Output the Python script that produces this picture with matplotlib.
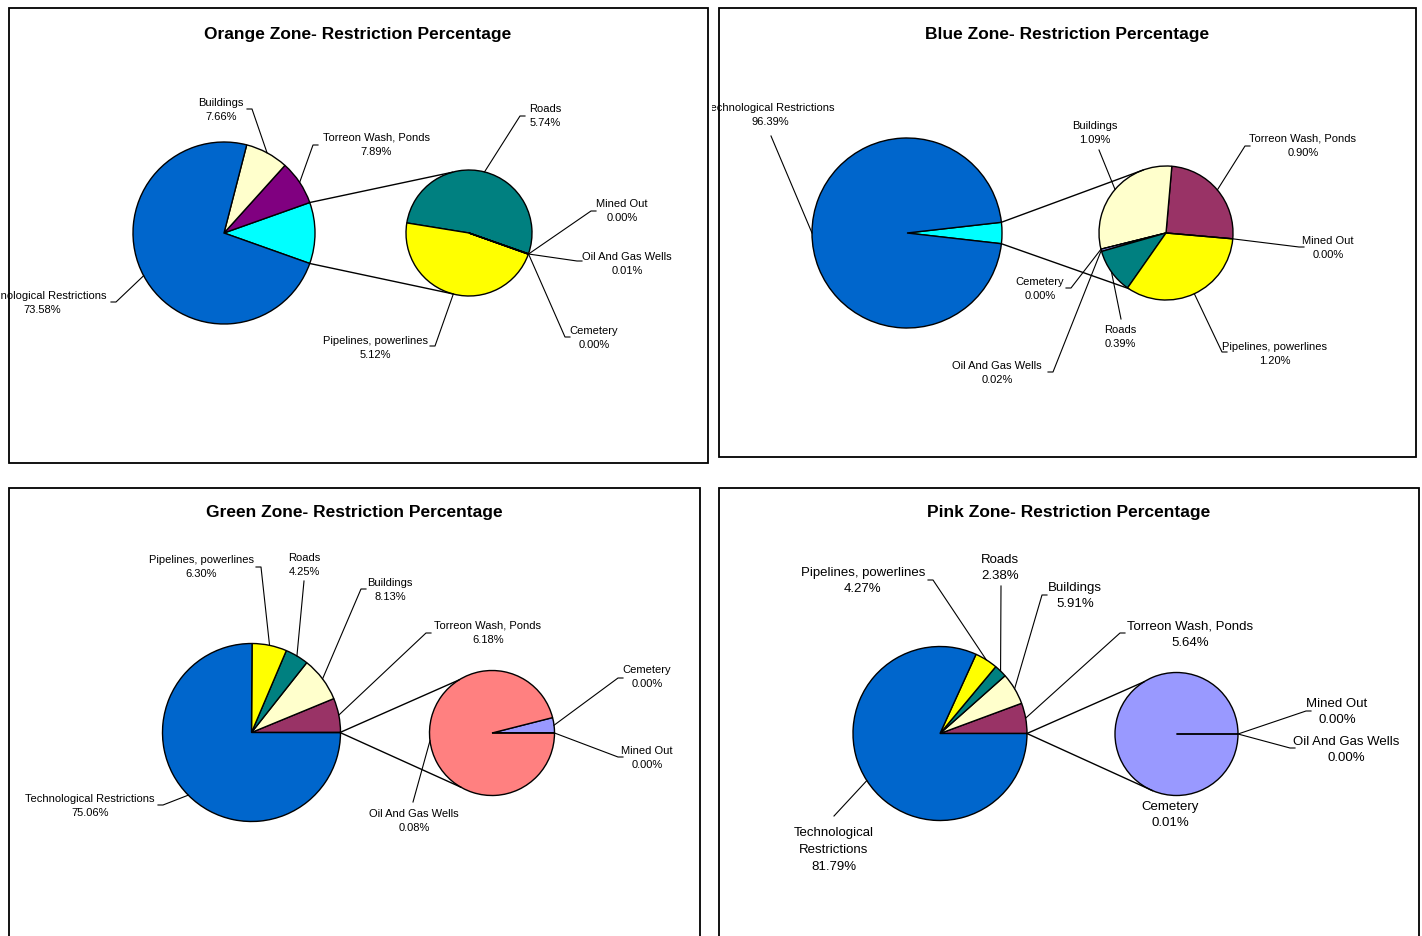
import numpy as np
import matplotlib
matplotlib.use("Agg")
import matplotlib.pyplot as plt
from matplotlib.patches import Rectangle
from matplotlib.transforms import Bbox, TransformedBbox

plt.rcParams["font.family"] = ["Liberation Sans", "DejaVu Sans"]

W, H = 1422, 937

# restriction shares (% of zone area); the small categories go to the side pie
orange_main_labels = ["Torreon Wash, Ponds", "Buildings", "Technological Restrictions"]
orange_main_values = [7.89, 7.66, 73.58]
orange_sub_labels = ["Roads", "Pipelines, powerlines", "Mined Out", "Oil And Gas Wells", "Cemetery"]
orange_sub_values = [5.74, 5.12, 0.00, 0.01, 0.00]

blue_main_labels = ["Technological Restrictions"]
blue_main_values = [96.39]
blue_sub_labels = ["Torreon Wash, Ponds", "Buildings", "Cemetery", "Oil And Gas Wells",
                   "Roads", "Pipelines, powerlines", "Mined Out"]
blue_sub_values = [0.90, 1.09, 0.00, 0.02, 0.39, 1.20, 0.00]

green_main_labels = ["Torreon Wash, Ponds", "Buildings", "Roads", "Pipelines, powerlines",
                     "Technological Restrictions"]
green_main_values = [6.18, 8.13, 4.25, 6.30, 75.06]
green_sub_labels = ["Cemetery", "Oil And Gas Wells", "Mined Out"]
green_sub_values = [0.0033, 0.08, 0.00]

pink_main_labels = ["Torreon Wash, Ponds", "Buildings", "Roads", "Pipelines, powerlines",
                    "Technological Restrictions"]
pink_main_values = [5.64, 5.91, 2.38, 4.27, 81.79]
pink_sub_labels = ["Cemetery", "Mined Out", "Oil And Gas Wells"]
pink_sub_values = [0.01, 0.00, 0.00]

colors = {
    "Technological Restrictions": "#0066CC",
    "Buildings": "#FFFFCC",
    "Torreon Wash, Ponds": "#993366",
    "Roads": "#008080",
    "Pipelines, powerlines": "#FFFF00",
    "Mined Out": "#CCFFFF",
    "Oil And Gas Wells": "#FF8080",
    "Cemetery": "#9999FF",
}
other_color = "#00FFFF"

# layout in pixels from the top-left corner
# label entries: name -> (text x, text y, leader elbow x, leader elbow y)
zones = [
    dict(title="Orange Zone- Restriction Percentage", title_xy=(358, 34),
         frame=(9, 9, 708, 464), clip=(0, 713),
         main_labels=orange_main_labels, main_values=orange_main_values,
         sub_labels=orange_sub_labels, sub_values=orange_sub_values,
         recolor={"Torreon Wash, Ponds": "#800080"},
         main=(224, 234, 91), sub=(469, 234, 63), sub_start=-19.3, links=(105, 255),
         fontsize=8, wrap={},
         labels={
             "Buildings": (221, 110, 252, 110),
             "Torreon Wash, Ponds": (376, 145, 313, 146),
             "Technological Restrictions": (42, 303, 116, 303),
             "Roads": (545, 116, 520, 117),
             "Mined Out": (622, 211, 591, 212),
             "Oil And Gas Wells": (627, 264, 577, 262),
             "Cemetery": (594, 338, 565, 338),
             "Pipelines, powerlines": (375, 348, 435, 347),
         }),
    dict(title="Blue Zone- Restriction Percentage", title_xy=(1067, 34),
         frame=(719, 9, 1416, 458), clip=(712, W),
         main_labels=blue_main_labels, main_values=blue_main_values,
         sub_labels=blue_sub_labels, sub_values=blue_sub_values,
         recolor={"Oil And Gas Wells": "#9999FF"},
         main=(907, 234, 95), sub=(1166, 234, 67), sub_start=-5.0, links=(110, 236),
         fontsize=8, wrap={},
         labels={
             "Technological Restrictions": (770, 115, 771, 137),
             "Buildings": (1095, 133, 1099, 151),
             "Torreon Wash, Ponds": (1303, 146, 1245, 147),
             "Mined Out": (1328, 248, 1299, 248),
             "Cemetery": (1040, 289, 1071, 289),
             "Oil And Gas Wells": (997, 373, 1053, 373),
             "Roads": (1120, 337, 1121, 320),
             "Pipelines, powerlines": (1275, 354, 1222, 353),
         }),
    dict(title="Green Zone- Restriction Percentage", title_xy=(354, 513),
         frame=(9, 489, 700, 960), clip=(0, 713),
         main_labels=green_main_labels, main_values=green_main_values,
         sub_labels=green_sub_labels, sub_values=green_sub_values,
         recolor={},
         main=(251.5, 733.5, 89), sub=(492, 734, 62.5), sub_start=0.0, links=(122, 240),
         fontsize=8, wrap={},
         labels={
             "Pipelines, powerlines": (201, 567, 261, 568),
             "Roads": (304, 565, 304, 582),
             "Buildings": (390, 590, 361, 590),
             "Torreon Wash, Ponds": (488, 633, 426, 634),
             "Technological Restrictions": (90, 806, 163, 806),
             "Cemetery": (647, 677, 618, 679),
             "Mined Out": (647, 758, 618, 758),
             "Oil And Gas Wells": (414, 821, 413, 803),
         }),
    dict(title="Pink Zone- Restriction Percentage", title_xy=(1069, 513),
         frame=(719, 489, 1419, 960), clip=(712, W),
         main_labels=pink_main_labels, main_values=pink_main_values,
         sub_labels=pink_sub_labels, sub_values=pink_sub_values,
         recolor={},
         main=(940, 734.5, 87), sub=(1176.5, 735, 61.5), sub_start=0.0, links=(122, 247),
         fontsize=9.5, wrap={"Technological Restrictions": "Technological\nRestrictions"},
         labels={
             "Pipelines, powerlines": (863, 581, 933, 581),
             "Roads": (1000, 568, 1001, 587),
             "Buildings": (1075, 596, 1042, 596),
             "Torreon Wash, Ponds": (1190, 635, 1120, 634),
             "Technological Restrictions": (834, 850, 834, 817),
             "Mined Out": (1337, 712, 1306, 712),
             "Oil And Gas Wells": (1346, 750, 1290, 749),
             "Cemetery": (1170, 815, None, None),
         }),
]

fig = plt.figure(figsize=(W / 100, H / 100), dpi=100)
ax = fig.add_axes([0, 0, 1, 1])


def rim(cx, cy, r, ang):
    a = np.deg2rad(ang)
    return cx + r * np.cos(a), (H - cy) + r * np.sin(a)


def draw_zone(z):
    pal = dict(colors, **z["recolor"])
    other = sum(z["sub_values"])
    main_vals = [other] + list(z["main_values"])
    main_cols = [other_color] + [pal[n] for n in z["main_labels"]]
    other_ang = 360 * other / sum(main_vals)

    mcx, mcy, mr = z["main"]
    scx, scy, sr = z["sub"]
    wp = dict(edgecolor="black", linewidth=1.0)
    main_w, _ = ax.pie(main_vals, colors=main_cols, startangle=-other_ang / 2,
                       counterclock=True, center=(mcx, H - mcy), radius=mr, wedgeprops=wp)
    sub_w, _ = ax.pie(z["sub_values"], colors=[pal[n] for n in z["sub_labels"]],
                      startangle=z["sub_start"], counterclock=True,
                      center=(scx, H - scy), radius=sr, wedgeprops=wp)

    # connector lines from the combined slice to the side pie
    ow = main_w[0]
    for main_ang, sub_ang in ((ow.theta2, z["links"][0]), (ow.theta1, z["links"][1])):
        x0, y0 = rim(mcx, mcy, mr, main_ang)
        x1, y1 = rim(scx, scy, sr, sub_ang)
        ax.plot([x0, x1], [y0, y1], color="black", lw=1.0, zorder=3)

    anchors = {}
    for name, w in zip(z["main_labels"], main_w[1:]):
        anchors[name] = rim(mcx, mcy, mr, (w.theta1 + w.theta2) / 2)
    for name, w in zip(z["sub_labels"], sub_w):
        anchors[name] = rim(scx, scy, sr, (w.theta1 + w.theta2) / 2)

    values = dict(zip(z["main_labels"], z["main_values"]))
    values.update(zip(z["sub_labels"], z["sub_values"]))

    clip = TransformedBbox(Bbox([[z["clip"][0], 0], [z["clip"][1], H]]), ax.transData)
    for name, (tx, ty, ex, ey) in z["labels"].items():
        text = f"{z['wrap'].get(name, name)}\n{values[name]:.2f}%"
        t = ax.text(tx, H - ty, text, ha="center", va="center", fontsize=z["fontsize"],
                    linespacing=1.55, zorder=4)
        t.set_clip_box(clip)
        t.set_clip_on(True)
        if ex is None:
            continue
        ax_, ay_ = anchors[name]
        xs, ys = [ax_, ex], [ay_, H - ey]
        if abs(ex - tx) > 15:
            xs.append(ex + 5 * np.sign(tx - ex))
            ys.append(H - ey)
        ax.plot(xs, ys, color="black", lw=0.8, zorder=3)

    ax.text(z["title_xy"][0], H - z["title_xy"][1], z["title"], ha="center", va="center",
            fontsize=12.5, fontweight="bold")
    x0, y0, x1, y1 = z["frame"]
    ax.add_patch(Rectangle((x0, H - y1), x1 - x0, y1 - y0, fill=False,
                           edgecolor="black", lw=1.3, zorder=5))


for z in zones:
    draw_zone(z)

ax.set_xlim(0, W)
ax.set_ylim(0, H)
ax.set_aspect("equal")
ax.axis("off")
fig.savefig("out.png", dpi=100, facecolor="white")
